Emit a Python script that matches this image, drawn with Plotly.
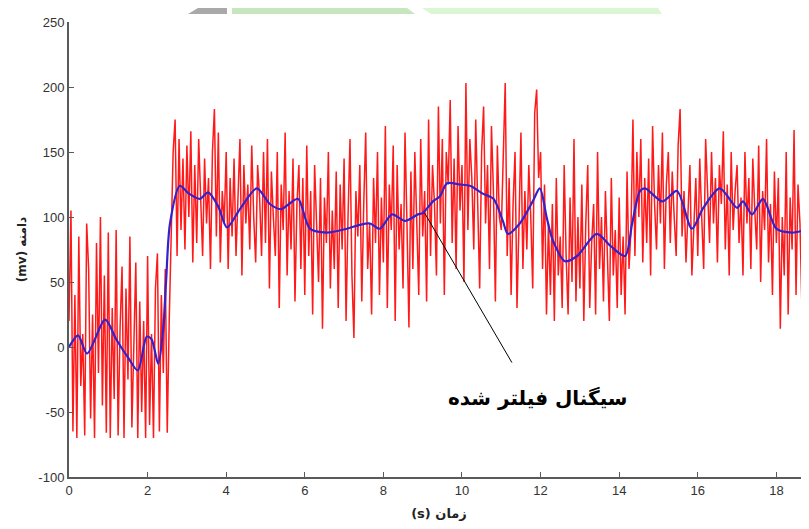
import plotly.graph_objects as go

dt = 0.05
raw_s0 = [20, 105, -65, 40, -70, 85, -30, 10, -68, 95, 60, -55, 25, -70, 80, -20, 100, -45, 55, -66]
raw_s1 = [88, -70, 30, -40, 90, -68, 15, 62, -70, 45, -25, 85, -62, 5, 65, -70, 35, -50, 20, -70]
raw_s2 = [70, -60, 10, -70, 45, 72, -65, 40, -20, 60, -66, 20, 95, 150, 175, 70, 160, 90, 145, 75]
raw_s3 = [155, 100, 166, 65, 140, 80, 160, 110, 70, 145, 95, 130, 60, 150, 183, 85, 165, 65, 120, 95]
raw_s4 = [150, 60, 130, 85, 145, 70, 110, 160, 55, 140, 95, 125, 75, 155, 100, 65, 140, 115, 70, 150]
raw_s5 = [80, 160, 45, 135, 100, 70, 150, 30, 125, 90, 165, 55, 120, 75, 145, 35, 110, 140, 60, 130]
raw_s6 = [40, 155, 70, 120, 25, 140, 95, 50, 130, 14, 115, 80, 150, 45, 105, 60, 135, 30, 125, 75]
raw_s7 = [145, 20, 100, 160, 55, 7, 120, 85, 140, 35, 110, 165, 60, 95, 25, 130, 80, 150, 40, 115]
raw_s8 = [65, 170, 30, 125, 90, 155, 20, 140, 75, 110, 45, 165, 95, 15, 135, 60, 150, 100, 40, 160]
raw_s9 = [85, 120, 35, 175, 70, 140, 110, 55, 185, 95, 160, 40, 150, 125, 190, 80, 145, 60, 170, 105]
raw_s10 = [140, 50, 203, 90, 160, 130, 75, 175, 115, 45, 150, 185, 95, 140, 60, 170, 120, 35, 155, 100]
raw_s11 = [90, 140, 203, 70, 130, 40, 110, 150, 30, 95, 165, 60, 120, 75, 140, 100, 45, 180, 198, 130]
raw_s12 = [150, 60, 125, 25, 95, 40, 110, 20, 130, 55, 85, 30, 140, 70, 25, 115, 50, 160, 35, 100]
raw_s13 = [45, 125, 20, 95, 140, 30, 80, 110, 25, 150, 60, 100, 35, 120, 75, 20, 130, 55, 90, 30]
raw_s14 = [115, 40, 85, 25, 135, 60, 90, 175, 70, 150, 100, 160, 65, 130, 80, 145, 55, 170, 110, 75]
raw_s15 = [140, 95, 165, 60, 125, 150, 80, 135, 100, 70, 155, 183, 85, 120, 65, 110, 140, 55, 95, 130]
raw_s16 = [70, 145, 100, 60, 160, 115, 80, 150, 95, 130, 65, 140, 110, 166, 75, 125, 55, 150, 90, 120]
raw_s17 = [140, 80, 115, 55, 150, 95, 130, 60, 145, 105, 75, 155, 50, 120, 90, 160, 65, 110, 40, 135]
raw_s18 = [80, 130, 14, 100, 55, 150, 25, 115, 75, 167, 40, 125, 95, 30, 140, 60, 110, 85]

raw_y = (raw_s0 + raw_s1 + raw_s2 + raw_s3 + raw_s4 + raw_s5 + raw_s6 + raw_s7 + raw_s8 +
         raw_s9 + raw_s10 + raw_s11 + raw_s12 + raw_s13 + raw_s14 + raw_s15 + raw_s16 +
         raw_s17 + raw_s18)
raw_t = [round(i * dt, 3) for i in range(len(raw_y))]

# ---- filtered signal (blue) ----
filt_t = [0, 0.23, 0.46, 0.92, 1.2, 1.5, 1.75, 1.98, 2.1, 2.27, 2.4, 2.47, 2.57, 2.82, 3.05,
          3.33, 3.54, 3.8, 4.02, 4.35, 4.78, 5.11, 5.4, 5.6, 5.83, 6.13, 6.56, 7.07, 7.4,
          7.66, 7.91, 8.22, 8.55, 8.88, 9.0, 9.26, 9.44, 9.62, 9.95, 10.2, 10.53, 10.8,
          11.04, 11.17, 11.47, 11.8, 11.98, 12.16, 12.3, 12.62, 12.93, 13.43, 13.77, 14.15,
          14.33, 14.53, 14.66, 15.1, 15.47, 15.85, 16.14, 16.56, 17.0, 17.15, 17.38, 17.66,
          18.0, 18.4, 18.85]
filt_y = [0, 9, -5, 21, 6, -8, -18, 8, 6, -13, 15, 50, 95, 124, 118, 114, 119, 108, 92, 106,
          122, 110, 106, 110, 114, 91, 88, 91, 94, 95, 91, 102, 97, 102, 103, 112, 116, 126,
          125, 124, 118, 114, 97, 87, 95, 112, 122, 99, 83, 66, 70, 87, 78, 70, 95, 120, 122,
          112, 120, 91, 107, 122, 107, 112, 102, 114, 91, 88, 91]

x_ticks = [0, 2, 4, 6, 8, 10, 12, 14, 16, 18]
y_ticks = [-100, -50, 0, 50, 100, 150, 200, 250]

label_text = "سیگنال فیلتر شده"
x_title = "(s) زمان"
y_title = "(mv) دامنه"

fig = go.Figure()
fig.add_trace(go.Scatter(x=raw_t, y=raw_y, mode="lines",
                         line=dict(color="#ff1a1a", width=1.5), showlegend=False))
fig.add_trace(go.Scatter(x=filt_t, y=filt_y, mode="lines",
                         line=dict(color="#3322cc", width=2.2, shape="spline", smoothing=0.8),
                         showlegend=False))

# pointer line from label to filtered curve
fig.add_shape(type="line", xref="x", yref="y", x0=9.05, y0=103, x1=11.27, y1=-12,
              line=dict(color="black", width=1))
fig.add_annotation(x=11.93, y=-39, xref="x", yref="y", text=label_text, showarrow=False,
                   font=dict(family="DejaVu Sans", size=20, color="black", weight="bold"))

# watermark strips at the top (paper coords; plot area 740x455 starting 14px below figure top)
def px_x(p):
    return (p - 69) / 740

def px_y(p):
    return (469 - p) / 455

def quad(x0, x1, x2, x3, top=0, bot=6):
    return "M %f %f L %f %f L %f %f L %f %f Z" % (px_x(x0), px_y(bot), px_x(x1), px_y(top),
                                                 px_x(x2), px_y(top), px_x(x3), px_y(bot))

fig.add_shape(type="path", xref="paper", yref="paper", path=quad(188, 198, 227, 227),
              fillcolor="#a9a9a9", line=dict(width=0), layer="below")
fig.add_shape(type="path", xref="paper", yref="paper", path=quad(232, 232, 407, 415),
              fillcolor="#c6e6bd", line=dict(width=0), layer="below")
fig.add_shape(type="path", xref="paper", yref="paper", path=quad(431, 422, 658, 662),
              fillcolor="#d9f7d0", line=dict(width=0), layer="below")

axis_common = dict(showline=True, linecolor="#5a5a5a", linewidth=2, ticks="inside", ticklen=5,
                   tickcolor="#5a5a5a", tickwidth=1, showgrid=False, zeroline=False,
                   tickfont=dict(family="Liberation Sans", size=13, color="#333"))

fig.update_xaxes(range=[0, 18.83], tickvals=x_ticks, ticktext=[str(v) for v in x_ticks],
                 title=dict(text=x_title,
                            font=dict(family="DejaVu Sans", size=13, color="#222", weight="bold"),
                            standoff=12), **axis_common)
fig.update_yaxes(range=[-100, 250], tickvals=y_ticks, ticktext=[str(v) for v in y_ticks],
                 title=dict(text=y_title,
                            font=dict(family="DejaVu Sans", size=12, color="#222", weight="bold"),
                            standoff=9), **axis_common)

fig.update_layout(width=801, height=521, margin=dict(l=61, r=0, t=14, b=52),
                  paper_bgcolor="white", plot_bgcolor="white")

fig.write_html("out.html")
